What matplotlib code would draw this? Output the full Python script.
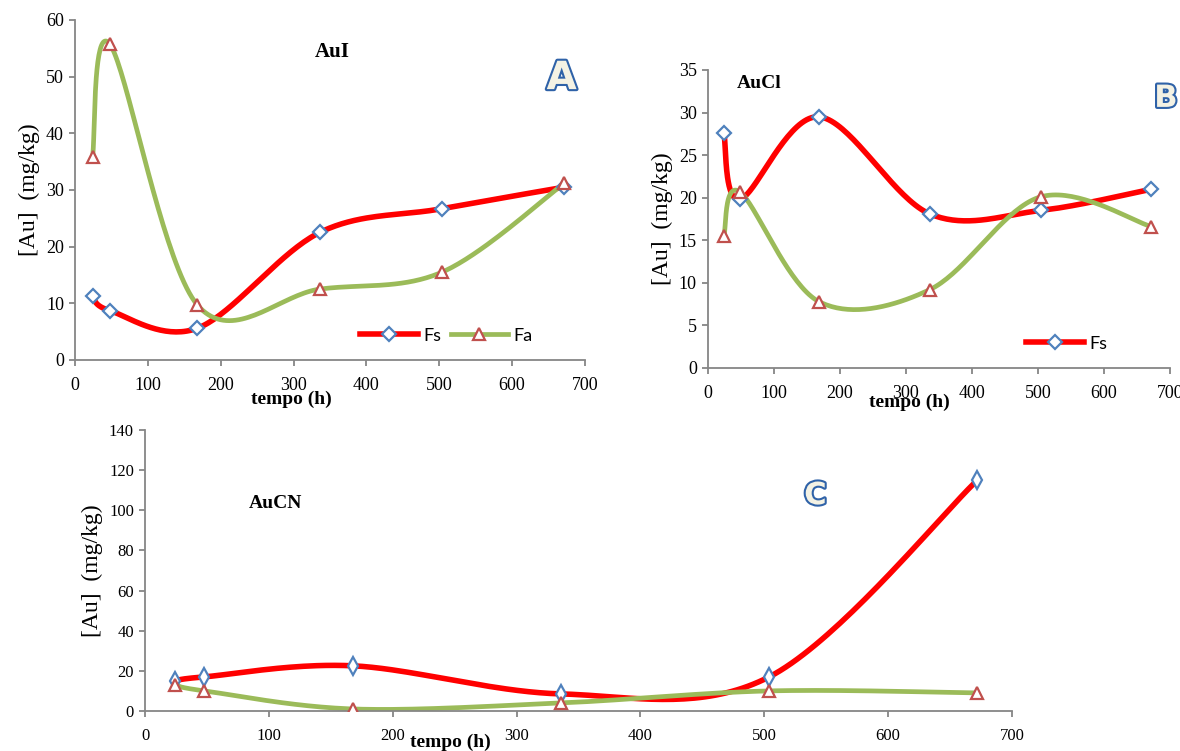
import numpy as np
import matplotlib
matplotlib.use("Agg")
import matplotlib.pyplot as plt
import matplotlib.patheffects as pe
from matplotlib.lines import Line2D

# sampling times (h)
tempo = [24, 48, 168, 336, 504, 672]

# AuI
aui_fs = [11.2, 8.7, 5.6, 22.5, 26.7, 30.5]
aui_fa = [35.8, 55.7, 9.7, 12.5, 15.5, 31.2]
# AuCl
aucl_fs = [27.6, 19.8, 29.5, 18.1, 18.5, 21.0]
aucl_fa = [15.5, 20.7, 7.8, 9.2, 20.1, 16.6]
# AuCN
aucn_fs = [15.0, 17.0, 22.5, 8.5, 17.0, 115.0]
aucn_fa = [13.0, 10.0, 1.0, 4.0, 10.0, 9.0]

RED = "#ff0000"
GREEN = "#9bbb59"
BLUE_MK = "#4f81bd"
RED_MK = "#c0504d"
AXIS = "#868686"
SERIF = "Liberation Serif"


def smooth(x, y, n=40):
    """Excel-like smoothed line (Catmull-Rom -> cubic bezier)."""
    p = np.column_stack([x, y]).astype(float)
    p = np.vstack([p[0], p, p[-1]])
    out = []
    for i in range(1, len(p) - 2):
        p0, p1, p2, p3 = p[i - 1], p[i], p[i + 1], p[i + 2]
        c1 = p1 + (p2 - p0) / 6.0
        c2 = p2 - (p3 - p1) / 6.0
        t = np.linspace(0, 1, n)[:, None]
        seg = ((1 - t) ** 3) * p1 + 3 * ((1 - t) ** 2) * t * c1 + 3 * (1 - t) * t ** 2 * c2 + t ** 3 * p2
        out.append(seg if i == 1 else seg[1:])
    s = np.vstack(out)
    return s[:, 0], s[:, 1]


def series(ax, x, y, color, lw, marker, mcol, ms):
    sx, sy = smooth(x, y)
    ax.plot(sx, sy, color=color, lw=lw, solid_capstyle="round", zorder=2)
    ax.plot(x, y, ls="none", marker=marker, ms=ms, mfc="white", mec=mcol,
            mew=1.6, zorder=3)


def style(ax, ymax, ystep, fs=13):
    for s in ["top", "right"]:
        ax.spines[s].set_visible(False)
    for s in ["left", "bottom"]:
        ax.spines[s].set_color(AXIS)
        ax.spines[s].set_linewidth(1.3)
    ax.set_xlim(0, 700)
    ax.set_ylim(0, ymax)
    ax.set_xticks(range(0, 701, 100))
    ax.set_yticks(np.arange(0, ymax + 0.1, ystep))
    ax.tick_params(direction="out", length=4, width=1.3, color=AXIS,
                   labelsize=fs)
    ax.tick_params(axis="x", pad=8)
    ax.tick_params(axis="y", pad=4)
    for lab in ax.get_xticklabels() + ax.get_yticklabels():
        lab.set_fontfamily(SERIF)


def big_letter(fig, x, y, s, size):
    fig.text(x, y, s, fontsize=size, family="DejaVu Sans", fontweight="bold",
             color="#f4f2e4", ha="center", va="center",
             path_effects=[pe.withStroke(linewidth=3, foreground="#2f62a8")])


def xlab(ax, xf, yf):
    ax.text(xf, yf, "tempo (h)", transform=ax.transAxes, family=SERIF,
            fontsize=14, fontweight="bold", ha="center", va="center")


fig = plt.figure(figsize=(11.8, 7.51), dpi=100)

# ---- A
axA = fig.add_axes([0.0636, 0.5207, 0.432, 0.4527])
series(axA, tempo, aui_fs, RED, 4, "D", BLUE_MK, 7)
series(axA, tempo, aui_fa, GREEN, 3.4, "^", RED_MK, 8)
style(axA, 60, 10)
axA.set_ylabel("[Au]  (mg/kg)", family=SERIF, fontsize=17, labelpad=4)
xlab(axA, 0.425, -0.115)
axA.text(0.505, 0.905, "AuI", transform=axA.transAxes, family=SERIF,
         fontsize=15, fontweight="bold", ha="center", va="center")
hA = [Line2D([], [], color=RED, lw=4, marker="D", ms=7, mfc="white", mec=BLUE_MK, mew=1.6),
      Line2D([], [], color=GREEN, lw=3.4, marker="^", ms=8, mfc="white", mec=RED_MK, mew=1.6)]
axA.legend(hA, ["Fs", "Fa"], ncol=2, loc="lower right", bbox_to_anchor=(0.93, 0.0),
           frameon=False, handlelength=3.2, handletextpad=0.3, columnspacing=0.5,
           prop={"family": "Lato", "size": 13})
big_letter(fig, 0.476, 0.896, "A", 28)

# ---- B
axB = fig.add_axes([0.6, 0.51, 0.3915, 0.3968])
series(axB, tempo, aucl_fs, RED, 4, "D", BLUE_MK, 7)
series(axB, tempo, aucl_fa, GREEN, 3.4, "^", RED_MK, 8)
style(axB, 35, 5)
axB.set_ylabel("[Au]  (mg/kg)", family=SERIF, fontsize=17, labelpad=4)
xlab(axB, 0.435, -0.115)
axB.text(0.11, 0.955, "AuCl", transform=axB.transAxes, family=SERIF,
         fontsize=14, fontweight="bold", ha="center", va="center")
axB.legend(hA[:1], ["Fs"], loc="lower right", bbox_to_anchor=(0.9, 0.0),
           frameon=False, handlelength=3.2, handletextpad=0.3,
           prop={"family": "Lato", "size": 13})
big_letter(fig, 0.988, 0.869, "B", 22)

# ---- C
axC = fig.add_axes([0.1229, 0.0533, 0.7347, 0.3741])
series(axC, tempo, aucn_fs, RED, 4, "d", BLUE_MK, 9)
series(axC, tempo, aucn_fa, GREEN, 3.4, "^", RED_MK, 8)
style(axC, 140, 20, fs=12)
axC.set_ylabel("[Au]  (mg/kg)", family=SERIF, fontsize=17, labelpad=4)
xlab(axC, 0.352, -0.11)
axC.text(0.15, 0.74, "AuCN", transform=axC.transAxes, family=SERIF,
         fontsize=14, fontweight="bold", ha="center", va="center")
big_letter(fig, 0.691, 0.34, "C", 22)

fig.savefig("out.png", dpi=100)
